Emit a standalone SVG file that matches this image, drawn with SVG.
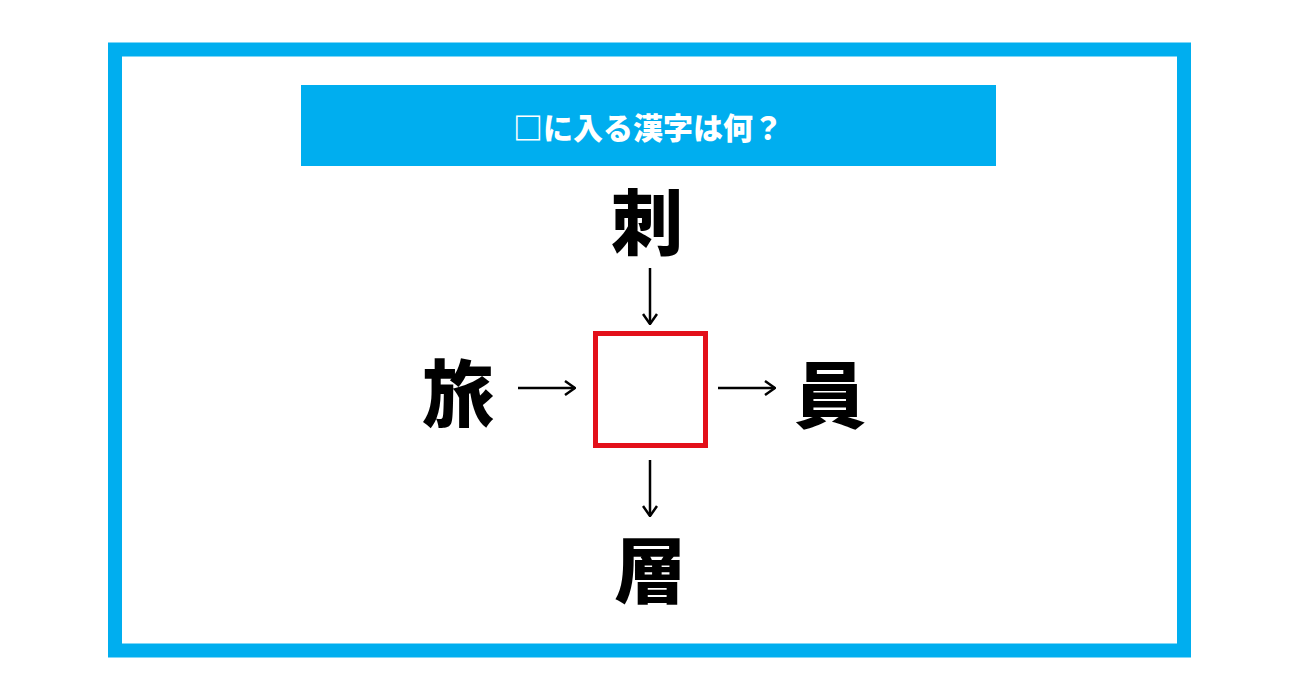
<svg xmlns="http://www.w3.org/2000/svg" width="1299" height="682" viewBox="0 0 1299 682">
<style>
.k{font-family:"Noto Sans CJK JP",sans-serif;font-weight:900;font-size:72px;fill:#000;text-anchor:middle;dominant-baseline:central}
.a{stroke:#000;stroke-width:2.5;fill:none}
</style>
<defs><marker id="m" viewBox="0 0 12 16" refX="11" refY="8" markerWidth="12" markerHeight="16" markerUnits="userSpaceOnUse" orient="auto"><path d="M1,1 L11,8 L1,15" fill="none" stroke="#000" stroke-width="2.5"/></marker></defs>
<rect width="1299" height="682" fill="#fff"/>
<rect x="115" y="49.5" width="1069" height="601" fill="#fff" stroke="#00aeef" stroke-width="14"/>
<g id="title"><rect x="301" y="85" width="695" height="81" fill="#00aeef"/>
<text x="648" y="126" font-family="Noto Sans CJK JP,sans-serif" font-weight="900" font-size="30" fill="#fff" text-anchor="middle" dominant-baseline="central">□に入る漢字は何？</text></g>
<g id="box"><rect x="595.5" y="333.5" width="110" height="112" fill="#fff" stroke="#e3101a" stroke-width="5"/></g>
<g id="top"><text class="k" x="647" y="217">刺</text></g>
<g id="left"><text class="k" x="458" y="388">旅</text></g>
<g id="right"><text class="k" x="830" y="390">員</text></g>
<g id="bottom"><text class="k" x="650" y="565">層</text></g>
<g id="connectors">
<line class="a" x1="650" y1="268" x2="650" y2="324" marker-end="url(#m)"/>
<line class="a" x1="518" y1="388" x2="575" y2="388" marker-end="url(#m)"/>
<line class="a" x1="718" y1="388" x2="775" y2="388" marker-end="url(#m)"/>
<line class="a" x1="650" y1="460" x2="650" y2="516" marker-end="url(#m)"/>
</g>
</svg>
